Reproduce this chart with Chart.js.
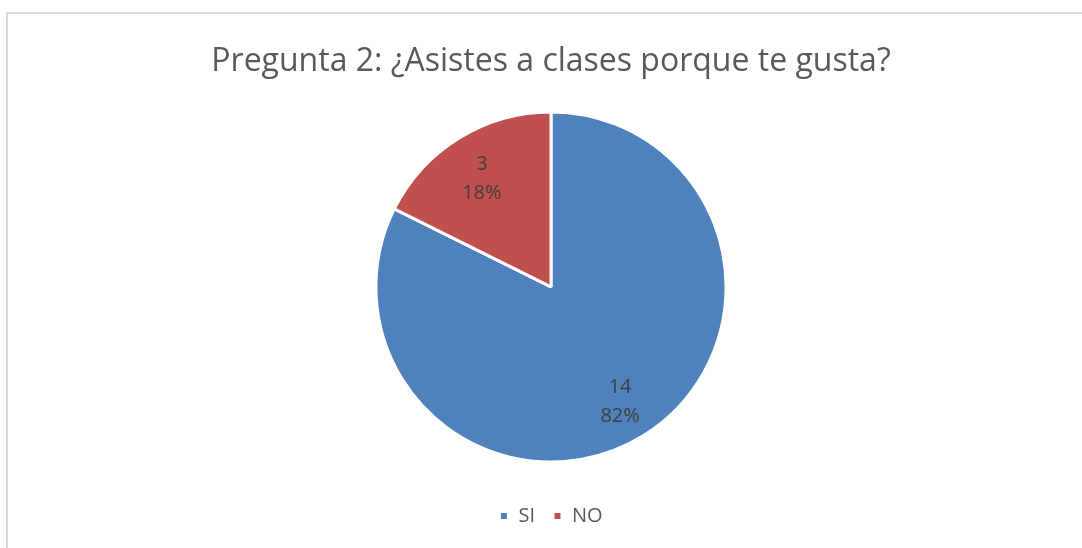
<!DOCTYPE html>
<html>
<head>
<meta charset="utf-8">
<script src="https://cdn.jsdelivr.net/npm/chart.js@4"></script>
<style>
  html, body { margin: 0; padding: 0; background: #fff; overflow: hidden; }
  #frame { position: absolute; left: 6px; top: 12px; width: 1100px; height: 560px; border: 2px solid #d9d9d9; box-sizing: border-box; }
  #wrap { position: absolute; left: 0; top: 0; width: 1082px; height: 548px; }
</style>
</head>
<body>
<div id="frame"></div>
<div id="wrap"><canvas id="c" width="1082" height="548"></canvas></div>
<script>
const titleText = "Pregunta 2: ¿Asistes a clases porque te gusta?";
const categories = ["SI", "NO"];
const counts = [14, 3];
const colors = ["#4F81BD", "#C0504D"];

const total = counts.reduce((a, b) => a + b, 0);

const labelPlugin = {
  id: 'sliceLabels',
  afterDatasetsDraw(chart) {
    const ctx = chart.ctx;
    const meta = chart.getDatasetMeta(0);
    ctx.save();
    ctx.font = '20px "Open Sans", sans-serif';
    ctx.fillStyle = '#404040';
    ctx.textAlign = 'center';
    ctx.textBaseline = 'middle';
    meta.data.forEach((arc, i) => {
      const p = arc.getProps(['x', 'y', 'startAngle', 'endAngle', 'outerRadius'], true);
      const mid = (p.startAngle + p.endAngle) / 2;
      const r = p.outerRadius * 0.75;
      const x = p.x + Math.cos(mid) * r;
      const y = p.y + Math.sin(mid) * r + 3;
      const pct = Math.round(counts[i] / total * 100) + '%';
      ctx.fillText(String(counts[i]), x, y - 14.5);
      ctx.fillText(pct, x, y + 14.5);
    });
    ctx.restore();
  }
};

new Chart(document.getElementById('c'), {
  type: 'pie',
  data: {
    labels: categories,
    datasets: [{
      data: counts,
      backgroundColor: colors,
      borderColor: '#ffffff',
      borderWidth: 3
    }]
  },
  options: {
    responsive: false,
    animation: false,
    layout: { padding: { left: 20, right: 0, top: 0, bottom: 12 } },
    plugins: {
      title: {
        display: true,
        text: titleText,
        color: '#595959',
        font: { family: '"Open Sans", sans-serif', size: 32, weight: 'normal' },
        padding: { top: 43, bottom: 29 }
      },
      legend: {
        position: 'bottom',
        title: { display: true, text: '', font: { size: 10 }, padding: { top: 12.5, bottom: 0 } },
        labels: {
          color: '#595959',
          font: { family: '"Open Sans", sans-serif', size: 20 },
          boxWidth: 9,
          boxHeight: 9,
          padding: 18
        }
      },
      tooltip: { enabled: false }
    }
  },
  plugins: [labelPlugin]
});
</script>
</body>
</html>
